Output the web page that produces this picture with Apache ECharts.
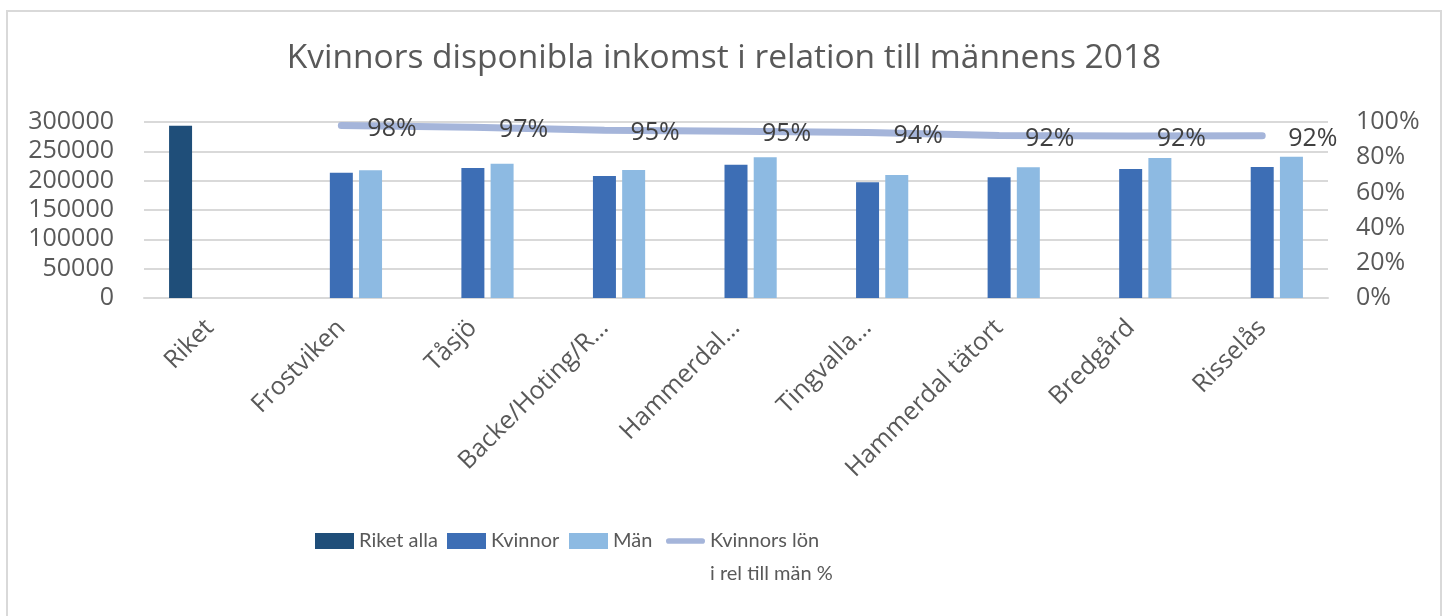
<!DOCTYPE html>
<html>
<head>
<meta charset="utf-8">
<script src="https://cdn.jsdelivr.net/npm/echarts@6/dist/echarts.min.js"></script>
<style>
  html, body { margin: 0; padding: 0; background: #fff; }
  #chart { width: 1448px; height: 616px; }
</style>
</head>
<body>
<div id="chart"></div>
<script>
// Kvinnors disponibla inkomst, kombinerat stapel + linje

const categories = ['Riket', 'Frostviken', 'Tåsjö', 'Backe/Hoting/R…', 'Hammerdal…', 'Tingvalla…', 'Hammerdal tätort', 'Bredgård', 'Risselås'];
const riketAlla = [293700, null, null, null, null, null, null, null, null];
const kvinnor = [null, 213600, 221600, 208000, 227300, 197200, 205700, 219900, 223300];
const man = [null, 217700, 228900, 218200, 239800, 209700, 222700, 238600, 240900];
const relation = [null, 0.98, 0.97, 0.953, 0.948, 0.94, 0.924, 0.92, 0.922];

const leftTicks = [0, 50000, 100000, 150000, 200000, 250000, 300000];
const rightTicks = [0, 0.2, 0.4, 0.6, 0.8, 1];

const lineName = 'Kvinnors lön\ni rel till män %';

const font = '"Open Sans", sans-serif';
const narrow = 'Lato, sans-serif';
const grey = '#595959';

const chart = echarts.init(document.getElementById('chart'));

// en förklaring per post så att de hamnar som i Excel
function legendAt(left, name, icon) {
  return {
    left: left,
    top: 531,
    padding: 0,
    itemWidth: 39,
    itemHeight: 16,
    textStyle: { fontFamily: narrow, fontSize: 20, color: grey },
    formatter: n => n.split('\n')[0],
    data: [{ name: name, icon: icon }]
  };
}

const option = {
  backgroundColor: '#fff',
  animation: false,
  title: {
    text: 'Kvinnors disponibla inkomst i relation till männens 2018',
    left: 'center',
    top: 36,
    textStyle: { fontFamily: font, fontSize: 33.5, fontWeight: 'normal', color: grey }
  },
  graphic: [
    {
      type: 'rect',
      shape: { x: 7, y: 11, width: 1434, height: 620 },
      style: { fill: 'none', stroke: '#d9d9d9', lineWidth: 2 }
    },
    {
      // andra raden av linjens förklaring
      type: 'text',
      left: 710,
      top: 564,
      style: { text: 'i rel till män %', fontFamily: narrow, fontSize: 20, fill: grey }
    }
  ],
  legend: [
    legendAt(315, 'Riket alla', 'rect'),
    legendAt(447, 'Kvinnor', 'rect'),
    legendAt(569, 'Män', 'rect'),
    legendAt(666, lineName, 'path://M3,0 L38,0 A3,3 0 0 1 38,6 L3,6 A3,3 0 0 1 3,0 Z')
  ],
  grid: { left: 144, right: 120, top: 122, bottom: 318, containLabel: false },
  xAxis: {
    type: 'category',
    data: categories,
    axisLine: { lineStyle: { color: '#d9d9d9', width: 2 } },
    axisTick: { show: false },
    axisLabel: {
      rotate: 45,
      interval: 0,
      margin: 26,
      fontFamily: font,
      fontSize: 25,
      color: grey
    }
  },
  yAxis: [
    {
      type: 'value',
      min: leftTicks[0],
      max: leftTicks[leftTicks.length - 1],
      interval: 50000,
      axisLine: { show: false },
      axisTick: { show: false },
      splitLine: { lineStyle: { color: '#d9d9d9', width: 2 } },
      axisLabel: { fontFamily: font, fontSize: 25, color: grey, margin: 30, formatter: v => String(v) }
    },
    {
      type: 'value',
      min: rightTicks[0],
      max: rightTicks[rightTicks.length - 1],
      interval: 0.2,
      axisLine: { show: false },
      axisTick: { show: false },
      splitLine: { show: false },
      axisLabel: {
        fontFamily: font, fontSize: 25, color: grey, margin: 28,
        formatter: v => Math.round(v * 100) + '%'
      }
    }
  ],
  series: [
    {
      name: 'Riket alla',
      type: 'bar',
      data: riketAlla,
      barWidth: 23,
      barGap: '27%',
      itemStyle: { color: '#1f4e79' }
    },
    {
      name: 'Kvinnor',
      type: 'bar',
      data: kvinnor,
      barWidth: 23,
      barGap: '27%',
      itemStyle: { color: '#3d6eb5' }
    },
    {
      name: 'Män',
      type: 'bar',
      data: man,
      barWidth: 23,
      barGap: '27%',
      itemStyle: { color: '#8dbae2' }
    },
    {
      name: lineName,
      type: 'line',
      yAxisIndex: 1,
      data: relation,
      symbol: 'circle',
      symbolSize: 0,
      showSymbol: true,
      itemStyle: { color: '#a5b5da' },
      lineStyle: { color: '#a5b5da', width: 7, cap: 'round' },
      label: {
        show: true,
        position: 'right',
        distance: 26,
        offset: [0, 3],
        fontFamily: font,
        fontSize: 25,
        color: '#404040',
        formatter: p => Math.round(p.value * 100) + '%'
      }
    }
  ]
};

chart.setOption(option);
</script>
</body>
</html>
